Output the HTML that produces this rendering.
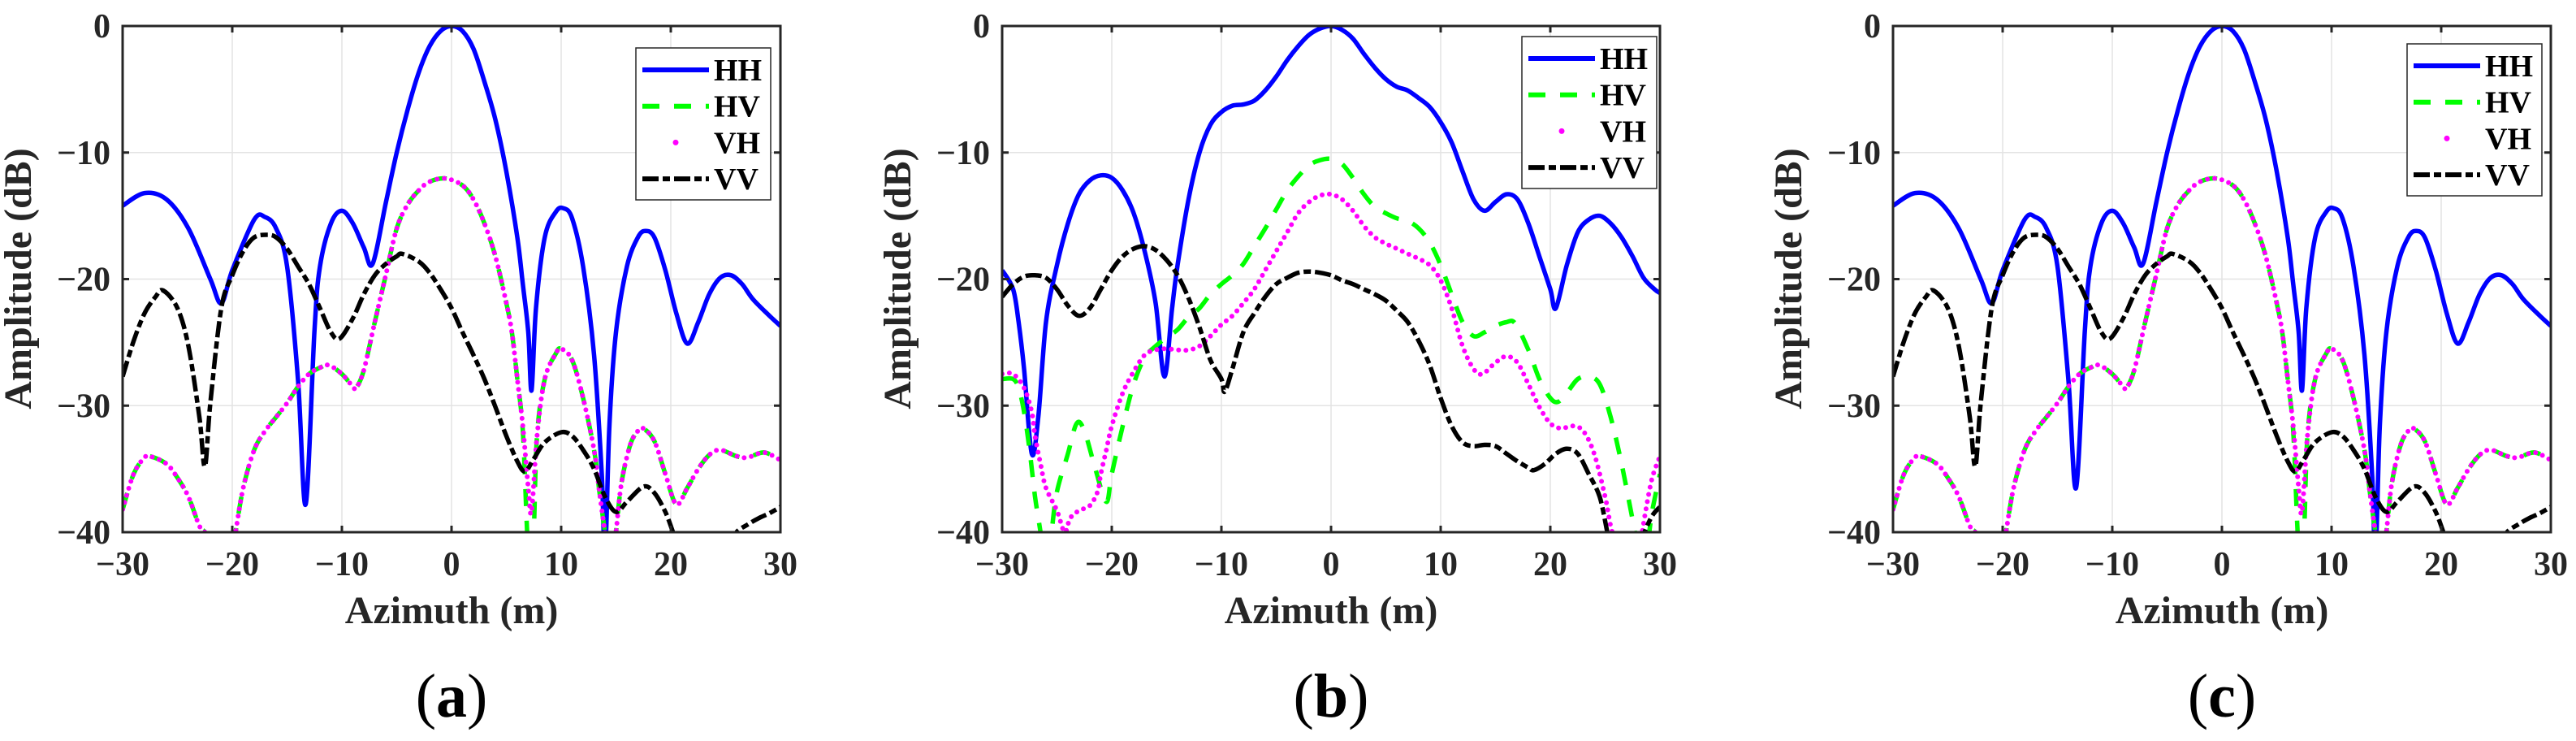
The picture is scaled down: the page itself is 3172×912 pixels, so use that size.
<!DOCTYPE html>
<html><head><meta charset="utf-8"><style>
html,body{margin:0;padding:0;background:#fff;}
svg{display:block;}
svg text{font-family:"Liberation Serif","Times New Roman",serif;}
</style></head><body>
<svg id="fig" width="3172" height="912" viewBox="0 0 3172 912" font-family="Liberation Serif, serif" xmlns="http://www.w3.org/2000/svg"></svg>
<script>
// ---- data (x in m, y in dB) ----
const aHHx=[-30,-28,-26,-24,-22,-21,-20,-18,-17,-16,-15,-14,-13.3,-12.5,-12,-11,-10,-9,-8,-7.2,-6,-5,-4,-3,-2,-1,0,1,2,3,4,5,6,6.5,7,7.3,7.7,8.5,9.5,10.2,11,12,13,13.7,14,14.4,15,16,17,17.7,18.5,19.5,20.5,21.5,22.5,23.5,24.5,25.5,26.5,27.5,29,30];
const aHHy=[-14.2,-13.2,-13.7,-16,-20,-21.9,-19.3,-15.3,-15.1,-16,-19,-28,-37.8,-24,-19,-15.6,-14.6,-15.6,-17.5,-18.8,-14,-10,-6.6,-3.7,-1.6,-0.4,0,-0.4,-1.8,-4.4,-7.4,-11.5,-16.7,-20.4,-24.2,-28.8,-22.3,-16.7,-14.7,-14.4,-15.2,-19,-26,-35.4,-42,-31.6,-24.2,-19,-16.7,-16.2,-16.7,-19.3,-22.7,-25.1,-23.4,-21.2,-19.9,-19.7,-20.4,-21.6,-22.9,-23.7];
const aVHx=[-30,-29,-28,-27.5,-26,-25,-24,-23,-22.5,-22.2,null,-19.9,-19.7,-19,-18,-17,-16,-15,-14,-13,-12,-11.2,-10,-9,-8.7,-8,-7,-6,-5,-4,-3,-2,-0.5,1,2,3,4,5,5.5,6,6.5,7,7.3,7.8,8.5,9.5,10,11,12,13,13.5,14,14.2,null,14.8,15,15.5,16.3,17,17.5,18.5,19.5,20.5,21.5,22.5,23.5,24.5,26,27,28.5,30];
const aVHy=[-38.2,-35.4,-34.1,-34,-34.6,-35.7,-37.2,-39.5,-40,-41,null,-41,-40,-36.5,-33.5,-32,-30.9,-29.8,-28.5,-27.5,-27,-26.8,-27.5,-28.5,-28.6,-27.2,-23.4,-19.7,-16,-14.1,-13,-12.3,-12.05,-12.6,-13.7,-15.6,-18.2,-21.9,-24.2,-27.9,-31.6,-36.5,-38.4,-32.4,-27.9,-25.9,-25.5,-26.4,-29.4,-33.5,-36.9,-40,-41,null,-41,-40,-36.1,-33.1,-32,-31.8,-32.8,-35.4,-37.8,-36.5,-35,-33.9,-33.5,-34,-34.1,-33.7,-34.3];
const aHVx=[-30,-29,-28,-27.5,-26,-25,-24,-23,-22.5,-22.2,null,-19.9,-19.7,-19,-18,-17,-16,-15,-14,-13,-12,-11.2,-10,-9,-8.7,-8,-7,-6,-5,-4,-3,-2,-0.5,1,2,3,4,5,5.5,6,6.5,6.9,7.2,7.5,7.8,8.5,9.5,10,11,12,13,13.5,14,14.2,null,14.8,15,15.5,16.3,17,17.5,18.5,19.5,20.5,21.5,22.5,23.5,24.5,26,27,28.5,30];
const aHVy=[-38.2,-35.4,-34.1,-34,-34.6,-35.7,-37.2,-39.5,-40,-41,null,-41,-40,-36.5,-33.5,-32,-30.9,-29.8,-28.5,-27.5,-27,-26.8,-27.5,-28.5,-28.6,-27.2,-23.4,-19.7,-16,-14.1,-13,-12.3,-12.05,-12.6,-13.7,-15.6,-18.2,-21.9,-24.2,-27.9,-32,-40,-44,-40,-32.4,-27.9,-25.9,-25.5,-26.4,-29.4,-33.5,-36.9,-40,-41,null,-41,-40,-36.1,-33.1,-32,-31.8,-32.8,-35.4,-37.8,-36.5,-35,-33.9,-33.5,-34,-34.1,-33.7,-34.3];
const aVVx=[-30,-29,-28,-27,-26.3,-25,-24,-23,-22.5,-22,-21,-20,-19,-18,-16.8,-16,-15,-14,-13,-12,-11,-10.2,-9,-8,-7,-6,-5,-4.5,-3,-2,-1,0,1,2,3,4,5,6,6.7,7.5,8.5,10,11,12,13,14,15,16,17.5,18.5,19.5,20.2,20.6,null,25.6,26,27,28,29,30];
const aVVy=[-27.7,-24.9,-22.7,-21.4,-20.9,-22.3,-25.3,-30.9,-34.8,-29.8,-22.3,-19.7,-17.8,-16.7,-16.5,-16.7,-17.6,-19,-20.4,-22.3,-24.2,-24.7,-23.1,-21.2,-19.7,-18.8,-18.2,-18,-18.6,-19.5,-20.8,-22.3,-24.2,-26,-27.9,-30.1,-32.4,-34.4,-35.2,-34.2,-32.9,-32.1,-32.4,-33.5,-35,-37.2,-38.4,-37.6,-36.4,-36.9,-38.4,-40,-41,null,-41,-40,-39.4,-38.9,-38.5,-38];

const bHHx=[-30,-29,-28.5,-28,-27.3,-26.7,-26,-25,-24,-23,-22,-21,-20,-19,-18,-17,-16,-15.2,-14.5,-14,-13,-12,-11,-10,-9,-8,-7,-6,-5,-4,-3,-2,-1,0,1,2,3,4,5,6,7,8,9,10,11,12,13,14,15,16,17,18,19,20,20.5,21.5,22.5,23.5,24.5,25.5,26.5,27.5,28.5,29.5,30];
const bHHy=[-19.3,-20.8,-23.4,-27.1,-33.8,-30.9,-23.4,-18.9,-15.6,-13.3,-12.2,-11.8,-12,-13,-14.8,-17.8,-21.9,-27.7,-22.3,-18.9,-13.7,-10,-7.8,-6.8,-6.3,-6.2,-5.9,-5.1,-4,-2.7,-1.6,-0.7,-0.2,0,-0.3,-1,-2.2,-3.3,-4.2,-4.8,-5.1,-5.7,-6.4,-7.6,-9.2,-11.5,-13.7,-14.6,-13.9,-13.3,-13.7,-15.6,-18.2,-20.8,-22.3,-18.9,-16.3,-15.3,-15,-15.6,-16.7,-18.2,-19.9,-20.8,-21.1];
const bHVx=[-30,-29,-28.5,-28,-27.5,-27,-26.5,-26,-25.5,-25,-24,-23.2,-22.5,-21.5,-20.5,-20,-19,-18,-17,-16,-15,-14,-13,-12,-11,-10,-9,-8,-7,-6,-5,-4,-3,-2,-1,0,1,2,3,4,5,6,7,8,9,10,11,12,13,14,15,16,16.8,18,19,20,20.7,21.5,22.5,23.5,24.5,25.5,26.5,27.5,28,28.8,29.3,30];
const bHVy=[-27.9,-27.9,-28.6,-30.5,-33.5,-37.2,-40,-43,-40,-36.8,-33.8,-31.4,-32,-35,-37.6,-35.4,-31.6,-28.3,-26.2,-25.3,-24.6,-24,-23,-22.3,-21.2,-20.4,-19.7,-18.8,-17.4,-16,-14.5,-13,-11.9,-11,-10.6,-10.5,-10.9,-12,-13.3,-14.3,-14.8,-15.2,-15.4,-16,-17.1,-18.9,-21.2,-23.4,-24.5,-24.2,-23.7,-23.4,-23.5,-25.6,-27.9,-29.4,-29.7,-29,-27.9,-27.7,-28.3,-30.9,-34.6,-39,-41,-41,-38.3,-35.4];
const bVHx=[-30,-29,-28,-27.3,-27,-26.5,-26,-25,-24.3,-23.8,-23,-22,-21.3,-21,-20.5,-20,-19,-18,-17,-16,-15,-14,-13,-12,-11,-10,-9,-8,-7,-6,-5,-4,-3,-2,-1,0,1,2,3,4,5,6,7,8,9,10,11,12,13,13.8,15,16,17,18,19,20,21,22,23,24,25,25.5,26,null,28.2,28.7,29.3,30];
const bVHy=[-27.5,-27.5,-28.6,-30.5,-32.4,-34.6,-36.5,-38.3,-40,-38.9,-38.3,-37.9,-36.8,-35.4,-33.5,-31.6,-29,-27.3,-26,-25.6,-25.5,-25.6,-25.6,-25.3,-24.5,-23.6,-22.9,-21.9,-20.8,-19.3,-17.8,-16.3,-14.8,-13.9,-13.4,-13.3,-13.7,-14.6,-15.8,-16.7,-17.2,-17.6,-18,-18.4,-18.9,-20.1,-22.3,-25.3,-27.1,-27.5,-26.6,-26.1,-26.6,-28.3,-30.1,-31.4,-31.8,-31.6,-32,-33.8,-37.2,-39.5,-41,null,-41,-38.3,-35.7,-34];
const bVVx=[-30,-29,-28,-27,-26,-25,-24,-23,-22,-21,-20,-19,-18,-17,-16,-15,-14,-13,-12,-11,-10,-9.7,-9,-8,-7,-6,-5,-4,-3,-2,-1,0,1,2,3,4,5,6,7,8,9,10,11,12,13,14,15,16,17,18,18.5,19.5,20.5,21.5,22.5,23.5,24.5,25.2,25.5,null,28.3,28.6,29.3,30];
const bVVy=[-21.4,-20.4,-19.8,-19.7,-19.9,-20.8,-22.1,-22.9,-22.3,-20.8,-19.3,-18.2,-17.6,-17.4,-17.7,-18.5,-19.7,-21.5,-23.8,-26.4,-27.9,-28.9,-27.1,-24.2,-22.7,-21.4,-20.4,-19.9,-19.5,-19.4,-19.5,-19.7,-20.1,-20.4,-20.8,-21.2,-21.7,-22.5,-23.4,-24.9,-26.8,-29.4,-31.6,-32.9,-33.2,-33.1,-33.2,-33.8,-34.4,-34.9,-35.1,-34.6,-33.8,-33.4,-33.8,-35.4,-37.2,-40,-41,null,-41,-40,-38.7,-38];

const cHHx=aHHx.slice();
const cHHy=aHHy.slice(); cHHy[12]=-36.5;
const cVHx=aVHx, cVHy=aVHy, cHVx=aHVx, cHVy=aHVy, cVVx=aVVx, cVVy=aVVy;

const xTicks=[-30,-20,-10,0,10,20,30];
const yTicks=[0,-10,-20,-30,-40];
const xTickLabels=["\u221230","\u221220","\u221210","0","10","20","30"];
const yTickLabels=["0","\u221210","\u221220","\u221230","\u221240"];
const seriesNames=["HH","HV","VH","VV"];
const panelLetters=["a","b","c"];

// ---- drawing ----
const NS="http://www.w3.org/2000/svg";
const FONT="'Liberation Serif', 'Times New Roman', serif";
const svg=document.getElementById('fig');
function mk(tag,attrs,parent){const e=document.createElementNS(NS,tag);for(const k in attrs)e.setAttribute(k,attrs[k]);if(tag==='text')e.setAttribute('font-family',FONT);(parent||svg).appendChild(e);return e;}
const TOP=32,BOT=655,W=810;
const styles={
 HH:{stroke:"#0000ff","stroke-width":5.5,fill:"none"},
 HV:{stroke:"#00ff00","stroke-width":5.5,fill:"none","stroke-dasharray":"21 18"},
 VH:{stroke:"#ff00ff","stroke-width":6,fill:"none","stroke-dasharray":"0 9","stroke-linecap":"round"},
 VV:{stroke:"#000000","stroke-width":5.5,fill:"none","stroke-dasharray":"20 5 9 5"}
};
function pathFrom(xs,ys,sx,sy){
 let d="",seg=[];
 const flush=()=>{if(seg.length<2){seg=[];return;}
  const p=seg.map(([x,y])=>[sx(x),sy(y)]);
  d+="M"+p[0][0].toFixed(1)+","+p[0][1].toFixed(1);
  for(let i=0;i<p.length-1;i++){
   const p0=p[Math.max(0,i-1)],p1=p[i],p2=p[i+1],p3=p[Math.min(p.length-1,i+2)];
   const c1=[p1[0]+(p2[0]-p0[0])/6,p1[1]+(p2[1]-p0[1])/6];
   const c2=[p2[0]-(p3[0]-p1[0])/6,p2[1]-(p3[1]-p1[1])/6];
   d+="C"+c1[0].toFixed(1)+","+c1[1].toFixed(1)+" "+c2[0].toFixed(1)+","+c2[1].toFixed(1)+" "+p2[0].toFixed(1)+","+p2[1].toFixed(1);
  }
  seg=[];};
 for(let i=0;i<xs.length;i++){ if(xs[i]===null){flush();continue;} seg.push([xs[i],ys[i]]); }
 flush(); return d;
}
function panel(idx,x0,data,leg){
 const sx=v=>x0+(v+30)/60*W, sy=v=>TOP+(0-v)/40*(BOT-TOP);
 const g=mk('g',{});
 
 
 xTicks.forEach(t=>{const l=mk('line',{x1:sx(t),x2:sx(t),y1:TOP,y2:BOT,stroke:"#e3e3e3","stroke-width":1.5},g);
  });
 yTicks.forEach(t=>{const l=mk('line',{x1:x0,x2:x0+W,y1:sy(t),y2:sy(t),stroke:"#e3e3e3","stroke-width":1.5},g);
  });
 const cp=mk('clipPath',{id:'clip'+idx},g); mk('rect',{x:x0,y:TOP,width:W,height:BOT-TOP},cp);
 const sg=mk('g',{"clip-path":"url(#clip"+idx+")"},g);
 seriesNames.forEach((n,k)=>{const [xs,ys]=data[k];
  const p=mk('path',Object.assign({d:pathFrom(xs,ys,sx,sy),"stroke-linejoin":"round"},styles[n]),sg);
  
  });
 const box=mk('rect',{x:x0,y:TOP,width:W,height:BOT-TOP,fill:"none",stroke:"#262626","stroke-width":3},g);
 
 xTicks.forEach((t,i)=>{
  mk('line',{x1:sx(t),x2:sx(t),y1:BOT,y2:BOT-8,stroke:"#262626","stroke-width":3},g);
  mk('line',{x1:sx(t),x2:sx(t),y1:TOP,y2:TOP+8,stroke:"#262626","stroke-width":3},g);
  const tx=mk('text',{x:sx(t),y:708,"text-anchor":"middle","font-size":42,"font-weight":"bold",fill:"#262626"},g);
  tx.textContent=xTickLabels[i];
  
 });
 yTicks.forEach((t,i)=>{
  mk('line',{x1:x0,x2:x0+8,y1:sy(t),y2:sy(t),stroke:"#262626","stroke-width":3},g);
  mk('line',{x1:x0+W,x2:x0+W-8,y1:sy(t),y2:sy(t),stroke:"#262626","stroke-width":3},g);
  const tx=mk('text',{x:x0-15,y:sy(t)+14,"text-anchor":"end","font-size":42,"font-weight":"bold",fill:"#262626"},g);
  tx.textContent=yTickLabels[i];
  
 });
 const xl=mk('text',{x:x0+W/2,y:767,"text-anchor":"middle","font-size":48,"font-weight":"bold",fill:"#262626"},g);
 xl.textContent="Azimuth (m)";
 
 const yx=x0-113, yy=343;
 const yl=mk('text',{x:yx,y:yy,"text-anchor":"middle","font-size":48,"font-weight":"bold",fill:"#262626",transform:"rotate(-90 "+yx+" "+yy+")"},g);
 yl.textContent="Amplitude (dB)";
 
 const cap=mk('text',{x:x0+W/2,y:882,"text-anchor":"middle","font-size":76,fill:"#000"},g);
 cap.appendChild(document.createTextNode('('));
 const ts=mk('tspan',{"font-weight":"bold"},cap); ts.textContent=panelLetters[idx];
 cap.appendChild(document.createTextNode(')'));
 
 const lg=mk('g',{},g);
 
 mk('rect',{x:leg[0],y:leg[1],width:166,height:187,fill:"#fff",stroke:"#262626","stroke-width":1.5},lg);
 seriesNames.forEach((n,k)=>{const yy=leg[1]+27+k*44.7;
  const e=mk('g',{},lg);
  
  if(n==="VH"){mk('circle',{cx:leg[0]+49,cy:yy,r:3.5,fill:"#ff00ff"},e);}
  else mk('line',Object.assign({x1:leg[0]+8,x2:leg[0]+90,y1:yy,y2:yy},styles[n],{"stroke-width":6}),e);
  const t=mk('text',{x:leg[0]+96,y:yy+13,"font-size":38,"font-weight":"bold",fill:"#000"},e);
  t.textContent=n;
 });
}
panel(0,151,[[aHHx,aHHy],[aHVx,aHVy],[aVHx,aVHy],[aVVx,aVVy]],[783,59]);
panel(1,1234,[[bHHx,bHHy],[bHVx,bHVy],[bVHx,bVHy],[bVVx,bVVy]],[1874,45]);
panel(2,2331,[[cHHx,cHHy],[cHVx,cHVy],[cVHx,cVHy],[cVVx,cVVy]],[2964,54]);
</script>
</body></html>
